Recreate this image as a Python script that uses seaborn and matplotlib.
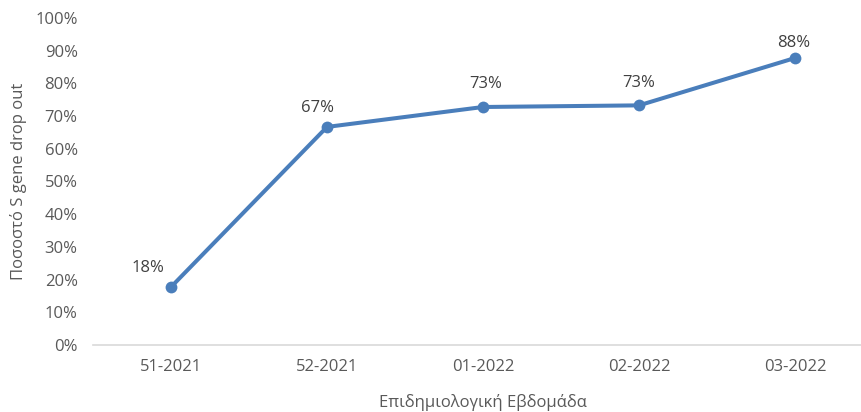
import matplotlib
matplotlib.use('Agg')
import matplotlib.pyplot as plt
import seaborn as sns
import pandas as pd
from matplotlib.ticker import PercentFormatter

sns.set_theme(style='white')
plt.rcParams['font.family'] = ['Open Sans', 'DejaVu Sans']

weeks = ['51-2021', '52-2021', '01-2022', '02-2022', '03-2022']
drop_out = [17.7, 66.7, 72.8, 73.3, 87.8]
labels = ['18%', '67%', '73%', '73%', '88%']

df = pd.DataFrame({'week': weeks, 'pct': drop_out})

text_color = '#595959'
line_color = '#4A7EBB'

fig = plt.figure(figsize=(8.61, 4.12), dpi=100)
ax = fig.add_axes([0.108, 0.163, 0.906, 0.793])

sns.lineplot(data=df, x='week', y='pct', ax=ax, color=line_color, linewidth=2.9,
             marker='o', markersize=8.5, markeredgewidth=0, sort=False)

# label offsets (points) roughly as placed in the original chart
offsets = [(-16.5, 10.5), (-6.5, 10.5), (2, 13.5), (0, 13.5), (-1, 8)]
for i, (val, lab) in enumerate(zip(drop_out, labels)):
    ax.annotate(lab, (i, val), xytext=offsets[i], textcoords='offset points',
                ha='center', va='baseline', fontsize=12, color='#404040')

ax.set_xlim(-0.5, len(weeks) - 0.5)
ax.set_ylim(0, 100)
ax.set_yticks(range(0, 101, 10))
ax.yaxis.set_major_formatter(PercentFormatter(decimals=0))

ax.set_xlabel('Επιδημιολογική Εβδομάδα', fontsize=12, color=text_color, labelpad=14)
ax.set_ylabel('Ποσοστό S gene drop out', fontsize=12, color=text_color, labelpad=6)
ax.tick_params(axis='both', labelsize=12, colors=text_color, length=0)
ax.tick_params(axis='x', pad=10)
ax.tick_params(axis='y', pad=11)

for side in ['top', 'right', 'left']:
    ax.spines[side].set_visible(False)
ax.spines['bottom'].set_color('#D9D9D9')
ax.spines['bottom'].set_linewidth(1.2)
ax.grid(False)

fig.savefig('out.png', dpi=100)
